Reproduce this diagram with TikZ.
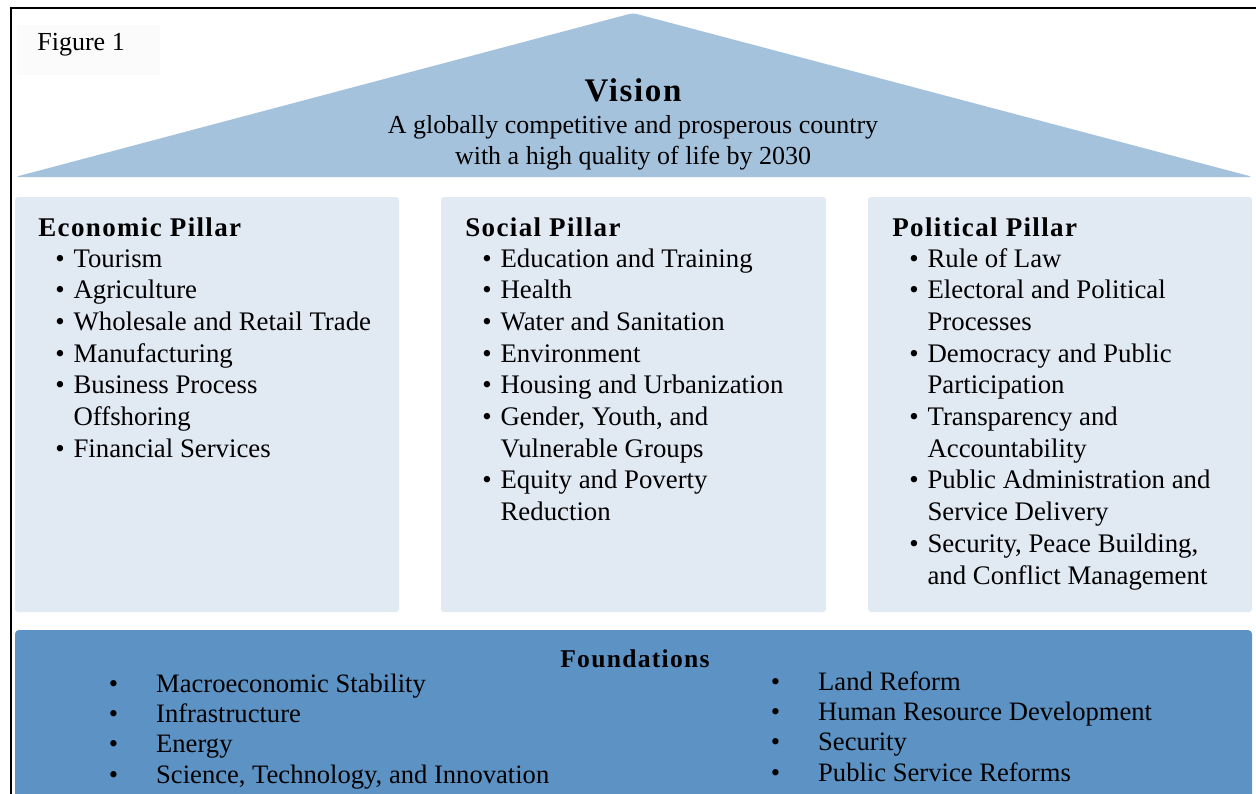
\documentclass[tikz,border=0pt]{standalone}
\usepackage{fontspec}
\setmainfont{Liberation Serif}
\newfontfamily\headfont[LetterSpace=5]{Liberation Serif}
\usetikzlibrary{positioning}

\definecolor{roofblue}{HTML}{A5C2DD}
\definecolor{pillarblue}{HTML}{E1E9F3}
\definecolor{basisblue}{HTML}{5C92C4}
\definecolor{tagfill}{HTML}{FBFBFB}

% bullet list with a fixed gap after the bullet
\newcommand{\pillaritems}[1]{\begin{tabular}[t]{@{}l@{\hspace{4.4pt}}l@{}}#1\end{tabular}}
\newcommand{\basisitems}[1]{\begin{tabular}[t]{@{}l@{\hspace{19pt}}l@{}}#1\end{tabular}}

\begin{document}
\begin{tikzpicture}[x=0.5pt, y=-0.5pt,
    body/.style={inner sep=0pt, anchor=base west, font=\fontsize{13.4}{15.85}\selectfont},
    basisbody/.style={inner sep=0pt, anchor=base west, font=\fontsize{13.3}{15.2}\selectfont},
    pillarhead/.style={inner sep=0pt, anchor=base west, font=\headfont\bfseries\fontsize{13.5}{16}\selectfont},
    pillarbox/.style={fill=pillarblue, rounded corners=1.5pt},
]
\useasboundingbox (0,0) rectangle (1256,793);
\begin{scope}
\clip (0,0) rectangle (1256,793);

    %% Frame
    \fill[white] (0,0) rectangle (1256,793);
    \draw[line width=1pt] (11,900) -- (11,8) -- (1300,8);

    % Figure tag
    \fill[tagfill] (17,25) rectangle (160,75);
    \node[body, font=\fontsize{13}{15}\selectfont] (figtag) at (37,50) {Figure 1};

    %% Roof
    \fill[roofblue, rounded corners=2pt] (15,177) -- (633,13) -- (1253,177) -- cycle;
    \node[inner sep=0pt, anchor=base, font=\headfont\bfseries\fontsize{16.5}{18}\selectfont] (vision) at (633,101) {Vision};
    \node[body, anchor=base, font=\fontsize{13}{15}\selectfont] (visionA) at (633,133) {A globally competitive and prosperous country};
    \node[body, anchor=base, font=\fontsize{13}{15}\selectfont] (visionB) at (633,164) {with a high quality of life by 2030};

    %% Pillars
    \fill[pillarbox] (15,197) rectangle (399,612);
    \fill[pillarbox] (441,197) rectangle (826,612);
    \fill[pillarbox] (868,197) rectangle (1252,612);

    % Economic pillar
    \node[pillarhead] (econ) at (38,236) {Economic Pillar};
    \node[body] (econlist) at (55,267) {\pillaritems{%
        \textbullet & Tourism\\
        \textbullet & Agriculture\\
        \textbullet & Wholesale and Retail Trade\\
        \textbullet & Manufacturing\\
        \textbullet & Business Process\\
                    & Offshoring\\
        \textbullet & Financial Services}};

    % Social pillar
    \node[pillarhead] (social) at (465,236) {Social Pillar};
    \node[body] (sociallist) at (482,267) {\pillaritems{%
        \textbullet & Education and Training\\
        \textbullet & Health\\
        \textbullet & Water and Sanitation\\
        \textbullet & Environment\\
        \textbullet & Housing and Urbanization\\
        \textbullet & Gender, Youth, and\\
                    & Vulnerable Groups\\
        \textbullet & Equity and Poverty\\
                    & Reduction}};

    % Political pillar
    \node[pillarhead] (polit) at (892,236) {Political Pillar};
    \node[body] (politlist) at (909,267) {\pillaritems{%
        \textbullet & Rule of Law\\
        \textbullet & Electoral and Political\\
                    & Processes\\
        \textbullet & Democracy and Public\\
                    & Participation\\
        \textbullet & Transparency and\\
                    & Accountability\\
        \textbullet & Public Administration and\\
                    & Service Delivery\\
        \textbullet & Security, Peace Building,\\
                    & and Conflict Management}};

    %% Foundations
    \fill[basisblue, rounded corners=2pt] (15,630) rectangle (1252,900);
    \node[pillarhead, anchor=base, font=\headfont\bfseries\fontsize{12.8}{15}\selectfont] (basis) at (635,667) {Foundations};
    \node[basisbody] (basisL) at (108.5,692) {\basisitems{%
        \textbullet & Macroeconomic Stability\\
        \textbullet & Infrastructure\\
        \textbullet & Energy\\
        \textbullet & Science, Technology, and Innovation}};
    \node[basisbody] (basisR) at (770.5,690) {\basisitems{%
        \textbullet & Land Reform\\
        \textbullet & Human Resource Development\\
        \textbullet & Security\\
        \textbullet & Public Service Reforms}};

\end{scope}
\end{tikzpicture}
\end{document}
